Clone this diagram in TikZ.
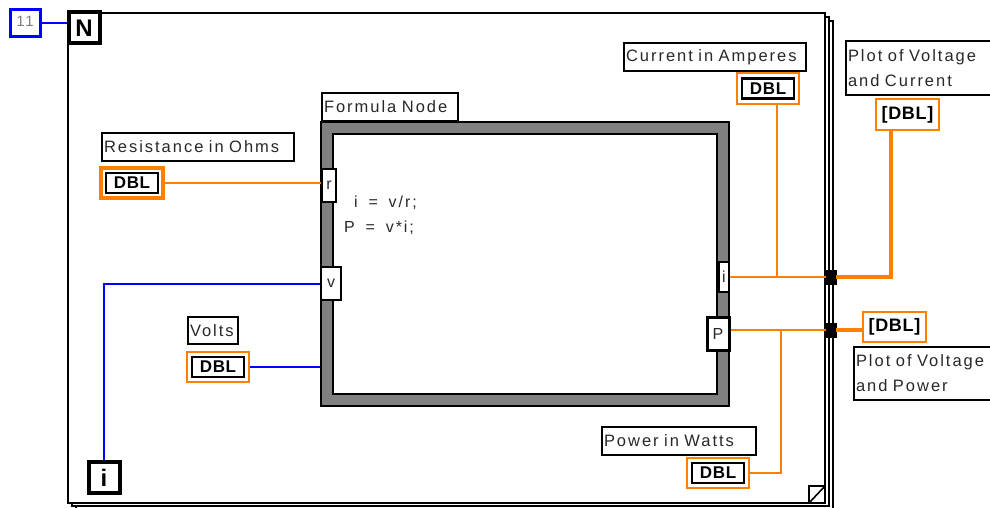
\documentclass[tikz,border=0pt]{standalone}
\usepackage{fontspec}
\setmainfont{Liberation Sans}[LetterSpace=12,WordSpace=1.7]
\newfontfamily\dblfont{Liberation Sans}[LetterSpace=4]
\definecolor{lvorange}{RGB}{255,128,0}
\definecolor{lvblue}{RGB}{0,0,255}
\definecolor{lvgray}{RGB}{128,128,128}
\definecolor{txt}{RGB}{40,40,40}
\tikzset{
  lbl/.style={draw=black, line width=2pt, anchor=north west, inner xsep=2pt, inner ysep=0pt,
    align=left, text=txt, font=\fontsize{16.5}{25}\selectfont},
  dctl/.style={draw=lvorange, line width=2.5pt, minimum width=62pt, minimum height=30pt, inner sep=0pt, fill=white},
  dind/.style={dctl, font=\dblfont\bfseries\fontsize{18}{18}\selectfont},
  dinner/.style={draw=black, line width=2.4pt, minimum width=52pt, minimum height=20pt, inner sep=0pt,
    font=\dblfont\bfseries\fontsize{17}{17}\selectfont},
  term/.style={draw=black, line width=2pt, fill=white, inner sep=0pt, text=txt, font=\fontsize{16}{16}\selectfont},
  owire/.style={draw=lvorange, line width=2pt},
  othick/.style={draw=lvorange, line width=4pt},
  bwire/.style={draw=lvblue, line width=2pt},
  tunnel/.style={fill=black, draw=black, minimum width=10pt, minimum height=14pt, inner sep=0pt},
  iconbox/.style={draw=black, line width=4pt, fill=white, minimum width=31pt, minimum height=31pt, inner sep=0pt,
    font=\bfseries\fontsize{24}{24}\selectfont},
}
\begin{document}
\begin{tikzpicture}[x=1pt,y=-1pt]
\useasboundingbox (0,0) rectangle (990,508);
% while loop frames (stacked)
\draw[line width=1.3pt, fill=white] (76,21) rectangle (833,511);
\draw[line width=1.3pt, fill=white] (72,17) rectangle (829,506);
\draw[line width=1.6pt, fill=white] (68,13) rectangle (825,503);
% page corner
\draw[line width=1.6pt] (809,503) -- (809,486) -- (825,486);
\draw[line width=1.6pt] (809,503) -- (825,486);

% count terminal
\node[iconbox] (nN) at (84,28) {N};
\node[draw=lvblue, line width=3pt, minimum width=30pt, minimum height=27pt, inner sep=0pt,
  text=lvgray, font=\fontsize{15}{15}\selectfont] (n11) at (25,23) {\raisebox{3pt}{11}\hspace{3pt}};
\draw[bwire] (n11.east) -- (n11.east -| nN.west);
% iteration terminal
\node[iconbox] (nI) at (104,477.5) {i};

% formula node
\node[draw=black, line width=2pt, fill=lvgray, minimum width=408pt, minimum height=284pt, inner sep=0pt] (fout) at (524.5,264) {};
\node[draw=black, line width=2.6pt, fill=white, minimum width=384pt, minimum height=260pt, inner sep=0pt] (fin) at (525,264) {};
\node[lbl, text width=132pt, minimum height=28pt] (lform) at (321,92) {\mbox{Formula Node}};
\node[anchor=base west, inner sep=0pt, text=txt, font=\fontsize{16}{16}\selectfont] (f1) at (354,207) {i = v/r;};
\node[anchor=base west, inner sep=0pt, text=txt, font=\fontsize{16}{16}\selectfont] (f2) at (344,232) {P = v*i;};

% terminals
\node[term, minimum width=14pt, minimum height=33pt] (tr) at (329,185.5) {r};
\node[term, minimum width=20pt, minimum height=33pt] (tv) at (331,283.5) {v};
\node[term, minimum width=10pt, minimum height=30pt] (ti) at (724,277) {i};
\node[term, line width=3pt, minimum width=22pt, minimum height=33pt] (tP) at (718,333.5) {P};

% tunnels
\node[tunnel] (tun1) at (831,277) {};
\node[tunnel] (tun2) at (831,330) {};

% labels
\node[lbl, text width=188pt, minimum height=28pt] (lres) at (101,132) {\mbox{Resistance in Ohms}};
\node[lbl, text width=46pt, minimum height=27pt] (lvolt) at (187,316) {\mbox{Volts}};
\node[lbl, text width=178pt, minimum height=28pt] (lcur) at (623,42) {\mbox{Current in Amperes}};
\node[lbl, text width=150pt, minimum height=28pt] (lpow) at (601,426) {\mbox{Power in Watts}};
\node[lbl, text width=160pt, minimum height=54pt] (lpvc) at (845,40) {\mbox{Plot of Voltage}\\\mbox{and Current}};
\node[lbl, text width=160pt, minimum height=53pt] (lpvp) at (853,346) {\mbox{Plot of Voltage}\\\mbox{and Power}};

% controls
\node[dctl, line width=4pt] (dR) at (132,183) {};
\node[dinner] (dRi) at (dR) {DBL};
\node[dctl] (dV) at (218,367) {};
\node[dinner] (dVi) at (dV) {DBL};
\node[dctl, minimum height=31pt] (dC) at (768,88.5) {};
\node[dinner] (dCi) at (dC) {DBL};
\node[dctl] (dP) at (718,473) {};
\node[dinner] (dPi) at (dP) {DBL};
% indicators
\node[dind, minimum width=63pt, minimum height=31pt] (iPVC) at (907.5,114.5) {[DBL]};
\node[dind, minimum width=63pt] (iPVP) at (894.5,327) {[DBL]};

% wires
\coordinate (jC) at (777,277);
\coordinate (jP) at (781,330);
\draw[owire] (dR.east) -- (dR.east -| tr.west);
\draw[bwire] (dV.east) -- (dV.east -| fout.west);
\draw[bwire] (nI.north) |- (tv.west);
\draw[owire] (ti.east) -- (tun1.west);
\draw[owire] ([xshift=9pt]dC.south) -- (jC);
\draw[othick] (tun1.east) -| ([xshift=-17pt]iPVC.south);
\draw[owire] ([yshift=3.5pt]tP.east) -- (tun2.west);
\draw[owire] (dP.east) -| (jP);
\draw[othick] (tun2.east) -- (tun2.east -| iPVP.west);
\end{tikzpicture}
\end{document}
